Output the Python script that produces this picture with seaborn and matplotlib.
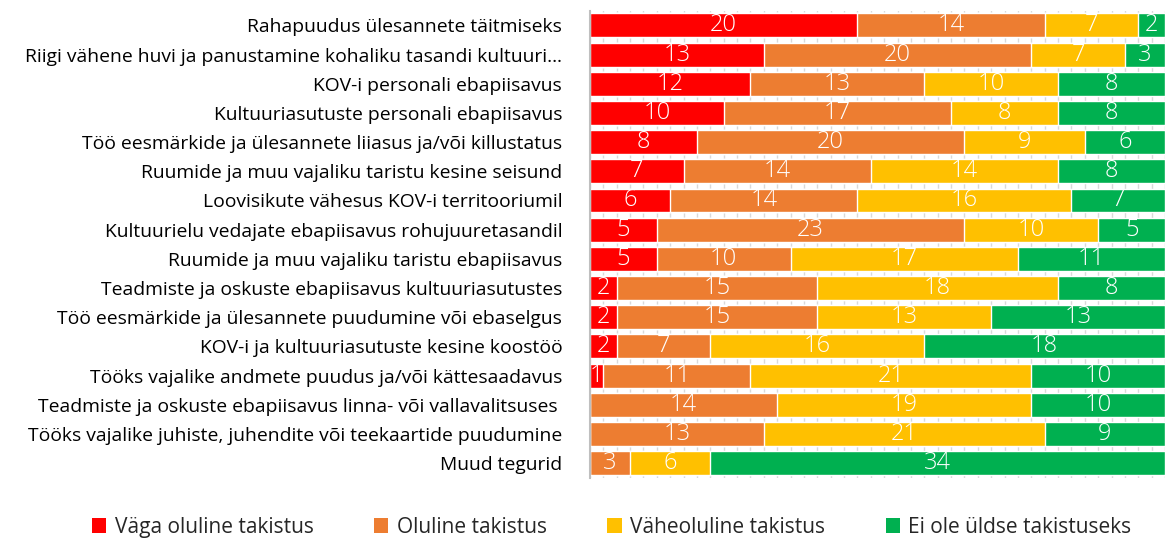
import numpy as np
import pandas as pd
import matplotlib
matplotlib.use("Agg")
import matplotlib.pyplot as plt
import seaborn as sns
from matplotlib.patches import Patch

categories = [
    "Rahapuudus ülesannete täitmiseks",
    "Riigi vähene huvi ja panustamine kohaliku tasandi kultuuri…",
    "KOV-i personali ebapiisavus",
    "Kultuuriasutuste personali ebapiisavus",
    "Töö eesmärkide ja ülesannete liiasus ja/või killustatus",
    "Ruumide ja muu vajaliku taristu kesine seisund",
    "Loovisikute vähesus KOV-i territooriumil",
    "Kultuurielu vedajate ebapiisavus rohujuuretasandil",
    "Ruumide ja muu vajaliku taristu ebapiisavus",
    "Teadmiste ja oskuste ebapiisavus kultuuriasutustes",
    "Töö eesmärkide ja ülesannete puudumine või ebaselgus",
    "KOV-i ja kultuuriasutuste kesine koostöö",
    "Tööks vajalike andmete puudus ja/või kättesaadavus",
    "Teadmiste ja oskuste ebapiisavus linna- või vallavalitsuses ",
    "Tööks vajalike juhiste, juhendite või teekaartide puudumine",
    "Muud tegurid",
]
very_important = [20, 13, 12, 10, 8, 7, 6, 5, 5, 2, 2, 2, 1, 0, 0, 0]
important = [14, 20, 13, 17, 20, 14, 14, 23, 10, 15, 15, 7, 11, 14, 13, 3]
minor = [7, 7, 10, 8, 9, 14, 16, 10, 17, 18, 13, 16, 21, 19, 21, 6]
not_at_all = [2, 3, 8, 8, 6, 8, 7, 5, 11, 8, 13, 18, 10, 10, 9, 34]

series_names = ["Väga oluline takistus", "Oluline takistus",
                "Väheoluline takistus", "Ei ole üldse takistuseks"]
colors = ["#FF0000", "#ED7D31", "#FFC000", "#00B050"]

df = pd.DataFrame({
    "Kategooria": categories,
    series_names[0]: very_important,
    series_names[1]: important,
    series_names[2]: minor,
    series_names[3]: not_at_all,
})
cum = df[series_names].cumsum(axis=1)
total = int(cum[series_names[-1]].max())

sns.set_style("white")
plt.rcParams["font.family"] = ["Open Sans", "DejaVu Sans"]

fig = plt.figure(figsize=(11.65, 5.41), dpi=100)
ax = fig.add_axes([0.5064, 0.117, 0.4936, 0.863])

# stacked bars: draw cumulative totals from the right-most series back
for name, color in reversed(list(zip(series_names, colors))):
    sns.barplot(data=cum.assign(Kategooria=df["Kategooria"]), x=name, y="Kategooria",
                order=categories, orient="h", color=color, saturation=1,
                width=0.82, ax=ax, zorder=2)

# value labels in segment centres
for i in range(len(categories)):
    for name in series_names:
        v = df.loc[i, name]
        if v == 0:
            continue
        centre = cum.loc[i, name] - v / 2
        ax.text(centre, i, str(v), ha="center", va="center", color="white",
                fontsize=17, fontweight="light", zorder=3)

ax.set_xlim(0, total)
ax.set_ylim(len(categories) - 0.5, -0.5)
ax.set_xticks(np.arange(0, total + 1, 1))
ax.set_xticklabels([])
ax.tick_params(axis="x", length=0)
ax.tick_params(axis="y", length=0, labelsize=13.9, pad=20, colors="#000000")
ax.grid(axis="x", color="#D9D9D9", linewidth=1, zorder=0)
ax.set_axisbelow(True)
ax.set_xlabel("")
ax.set_ylabel("")
for side in ["top", "right", "bottom"]:
    ax.spines[side].set_visible(False)
ax.spines["left"].set_color("#BFBFBF")
ax.spines["left"].set_linewidth(1.5)

handles = [Patch(facecolor=c, edgecolor="none") for c in colors]
fig.legend(handles, series_names, loc="center", bbox_to_anchor=(0.525, 0.025),
           ncol=4, frameon=False, fontsize=15, handlelength=0.7,
           handleheight=0.7, handletextpad=0.4, columnspacing=2.9)

fig.savefig("out.png", dpi=100)
